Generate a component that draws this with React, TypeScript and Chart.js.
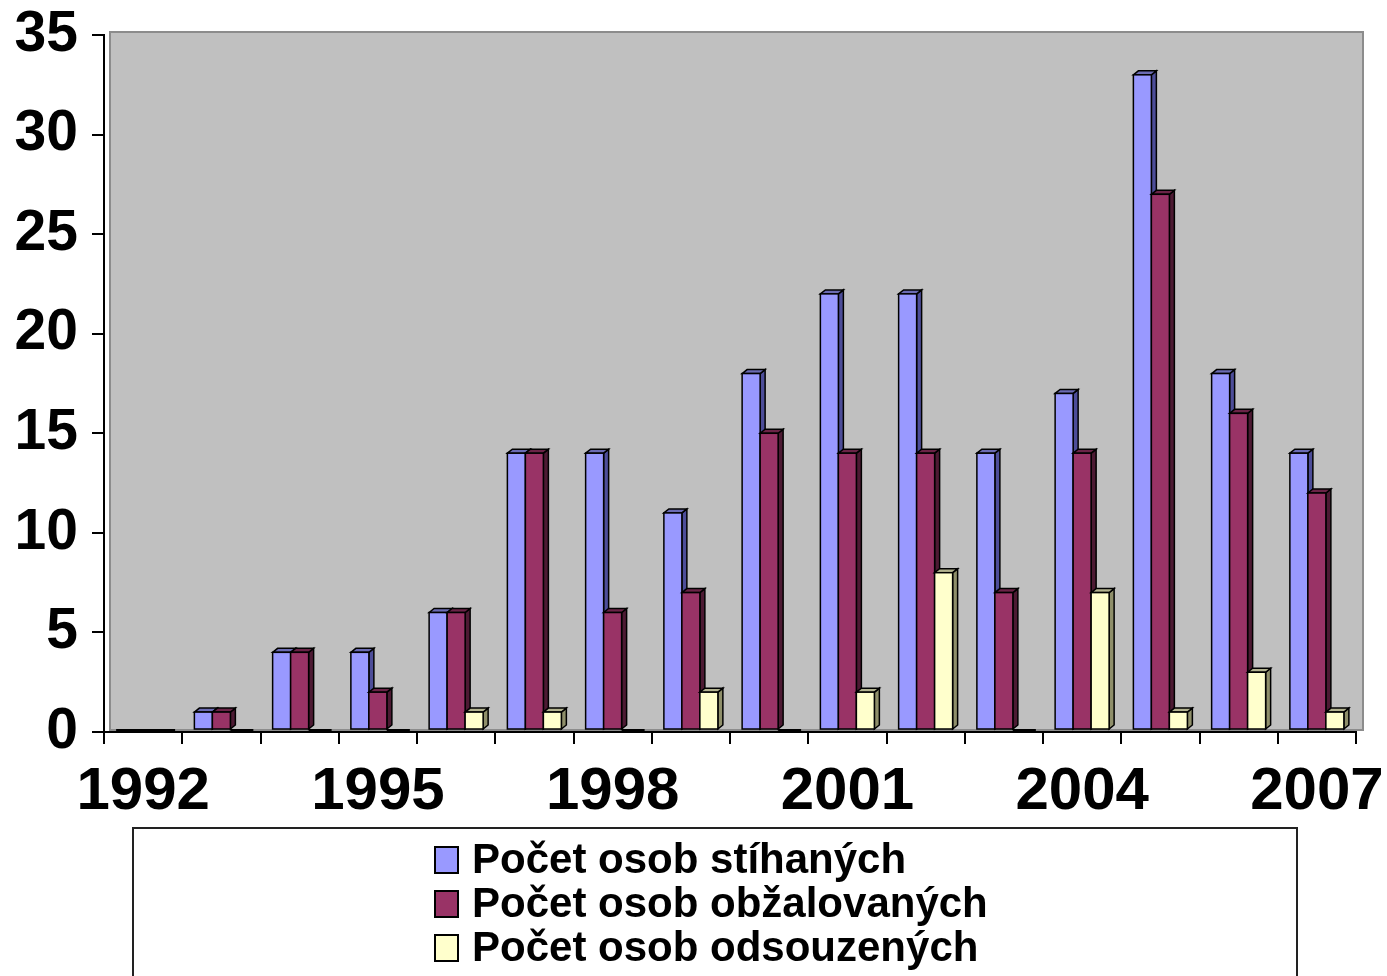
import React, { useEffect, useRef } from 'react';
import { Chart, registerables } from 'chart.js';

Chart.register(...registerables);

const years = ['1992', '1993', '1994', '1995', '1996', '1997', '1998', '1999', '2000', '2001', '2002', '2003', '2004', '2005', '2006', '2007'];
const shownYears = ['1992', '1995', '1998', '2001', '2004', '2007'];
const stihanych = [0, 1, 4, 4, 6, 14, 14, 11, 18, 22, 22, 14, 17, 33, 18, 14];
const obzalovanych = [0, 1, 4, 2, 6, 14, 6, 7, 15, 14, 14, 7, 14, 27, 16, 12];
const odsouzenych = [0, 0, 0, 0, 1, 1, 0, 2, 0, 2, 8, 0, 7, 1, 3, 1];
const yTicks = [0, 5, 10, 15, 20, 25, 30, 35];
const seriesLabels = ['Počet osob stíhaných', 'Počet osob obžalovaných', 'Počet osob odsouzených'];

const frontColors = ['#9999FF', '#993366', '#FFFFCC'];
const sideColors = ['#4d4d99', '#4d1a33', '#8f8f6a'];
const topColors = ['#6b6bb3', '#6b2447', '#b3b38f'];

const FONT = "'Liberation Sans', Arial, sans-serif";
const DX = 5;
const DY = 4;

const wallPlugin = {
  id: 'wall',
  beforeDraw(chart: any) {
    const { ctx, chartArea } = chart;
    ctx.save();
    ctx.fillStyle = '#c0c0c0';
    ctx.fillRect(chartArea.left + 6, chartArea.top - 3, chartArea.right - chartArea.left + 1, chartArea.bottom - chartArea.top + 1);
    ctx.strokeStyle = '#8c8c8c';
    ctx.lineWidth = 2;
    ctx.strokeRect(chartArea.left + 6, chartArea.top - 3, chartArea.right - chartArea.left + 1, chartArea.bottom - chartArea.top + 1);
    ctx.restore();
  },
};

const bars3dPlugin = {
  id: 'bars3d',
  beforeDatasetsDraw(chart: any) {
    const ctx = chart.ctx;
    const n = chart.data.labels.length;
    const nd = chart.data.datasets.length;
    ctx.save();
    ctx.lineWidth = 1.5;
    ctx.strokeStyle = '#000';
    ctx.lineJoin = 'miter';
    for (let i = 0; i < n; i++) {
      for (let d = 0; d < nd; d++) {
        const meta = chart.getDatasetMeta(d);
        const el = meta.data[i];
        if (!el) continue;
        const p = el.getProps(['x', 'y', 'base', 'width'], true);
        const l = p.x - p.width / 2;
        const r = p.x + p.width / 2;
        const top = Math.min(p.y, p.base);
        const bot = Math.max(p.y, p.base) - 2;
        if (bot - top < 0.5) {
          ctx.fillStyle = '#000';
          ctx.fillRect(l, bot - 1, p.width + DX, 2);
          continue;
        }
        // side
        ctx.beginPath();
        ctx.moveTo(r, top);
        ctx.lineTo(r + DX, top - DY);
        ctx.lineTo(r + DX, bot - DY);
        ctx.lineTo(r, bot);
        ctx.closePath();
        ctx.fillStyle = sideColors[d];
        ctx.fill();
        ctx.stroke();
        // top
        ctx.beginPath();
        ctx.moveTo(l, top);
        ctx.lineTo(l + DX, top - DY);
        ctx.lineTo(r + DX, top - DY);
        ctx.lineTo(r, top);
        ctx.closePath();
        ctx.fillStyle = topColors[d];
        ctx.fill();
        ctx.stroke();
        // front
        ctx.fillStyle = frontColors[d];
        ctx.fillRect(l, top, p.width, bot - top);
        ctx.strokeRect(l, top, p.width, bot - top);
      }
    }
    ctx.restore();
    return false;
  },
};

const legendPlugin = {
  id: 'boxLegend',
  afterDraw(chart: any) {
    const { ctx, chartArea } = chart;
    const left = chartArea.left + 29;
    const right = chartArea.right - 59;
    const top = chartArea.bottom + 96;
    ctx.save();
    ctx.strokeStyle = '#222';
    ctx.lineWidth = 2;
    ctx.beginPath();
    ctx.moveTo(left, chart.height + 5);
    ctx.lineTo(left, top);
    ctx.lineTo(right, top);
    ctx.lineTo(right, chart.height + 5);
    ctx.stroke();
    ctx.font = `bold 42px ${FONT}`;
    ctx.textBaseline = 'alphabetic';
    ctx.textAlign = 'left';
    chart.data.datasets.forEach((ds: any, d: number) => {
      const baseline = top + 45 + d * 44;
      const sx = left + 302;
      ctx.fillStyle = ds.backgroundColor;
      ctx.fillRect(sx, baseline - 26, 23, 26);
      ctx.lineWidth = 2;
      ctx.strokeStyle = '#000';
      ctx.strokeRect(sx, baseline - 26, 23, 26);
      ctx.fillStyle = '#000';
      ctx.fillText(ds.label, left + 339, baseline);
    });
    ctx.restore();
  },
};

export default function App() {
  const ref = useRef<HTMLCanvasElement>(null);

  useEffect(() => {
    document.body.style.margin = '0';
    const canvas = ref.current;
    if (!canvas) return;
    const chart = new Chart(canvas, {
      type: 'bar',
      data: {
        labels: years,
        datasets: [
          { label: seriesLabels[0], data: stihanych, backgroundColor: frontColors[0] },
          { label: seriesLabels[1], data: obzalovanych, backgroundColor: frontColors[1] },
          { label: seriesLabels[2], data: odsouzenych, backgroundColor: frontColors[2] },
        ],
      },
      options: {
        responsive: false,
        animation: false,
        devicePixelRatio: 1,
        layout: { autoPadding: false, padding: { left: 0, top: 35, right: 31, bottom: 154 } },
        plugins: {
          legend: { display: false },
          tooltip: { enabled: false },
        },
        datasets: { bar: { categoryPercentage: 0.69, barPercentage: 1 } },
        scales: {
          x: {
            grid: { display: true, drawOnChartArea: false, drawTicks: true, tickLength: 12, color: '#000', lineWidth: 2, offset: true },
            border: { display: true, color: '#000', width: 2 },
            ticks: {
              autoSkip: false,
              maxRotation: 0,
              minRotation: 0,
              color: '#000',
              padding: 12,
              font: { family: FONT, size: 60, weight: 'bold' },
              callback: (_v: any, i: number) => (shownYears.includes(years[i]) ? years[i] : ''),
            },
            afterFit: (s: any) => {
              s.height = 90;
              s.paddingLeft = 0;
              s.paddingRight = 0;
              s.paddingTop = 0;
              s.paddingBottom = 0;
            },
          },
          y: {
            min: 0,
            max: 35,
            grid: { display: true, drawOnChartArea: false, drawTicks: true, tickLength: 12, color: '#000', lineWidth: 2 },
            border: { display: true, color: '#000', width: 2 },
            ticks: {
              color: '#000',
              padding: 14,
              font: { family: FONT, size: 57, weight: 'bold' },
            },
            afterBuildTicks: (s: any) => {
              s.ticks = yTicks.map((v) => ({ value: v }));
            },
            afterFit: (s: any) => {
              s.width = 104;
              s.paddingLeft = 0;
              s.paddingRight = 0;
              s.paddingTop = 0;
              s.paddingBottom = 0;
            },
          },
        },
      },
      plugins: [wallPlugin, bars3dPlugin, legendPlugin],
    });
    return () => chart.destroy();
  }, []);

  return (
    <div style={{ width: 1387, height: 976, position: 'relative', overflow: 'hidden' }}>
      <canvas ref={ref} width={1387} height={976} style={{ display: 'block' }} />
    </div>
  );
}
